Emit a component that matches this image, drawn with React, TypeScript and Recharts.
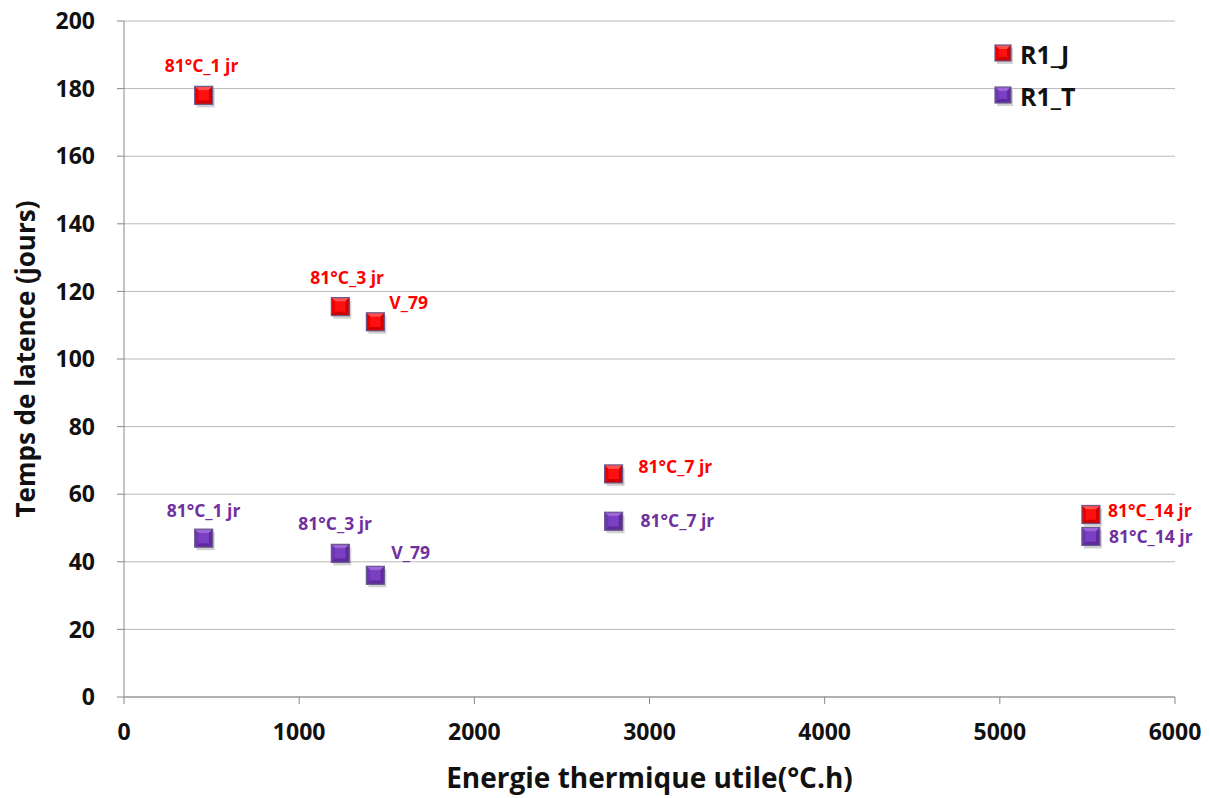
import React from "react";
import {
  ScatterChart,
  Scatter,
  XAxis,
  YAxis,
  CartesianGrid,
} from "recharts";

const energyValues = [455, 1235, 1435, 2795, 5520];
const latenceR1J = [178, 115.5, 111, 66, 54];
const latenceR1T = [47, 42.5, 36, 52, 47.5];
const pointLabels = ["81°C_1 jr", "81°C_3 jr", "V_79", "81°C_7 jr", "81°C_14 jr"];
const xTicks = [0, 1000, 2000, 3000, 4000, 5000, 6000];
const yTicks = [0, 20, 40, 60, 80, 100, 120, 140, 160, 180, 200];
const seriesNames = ["R1_J", "R1_T"];

// label offsets (style only)
const offsetsJ = [
  [-39, -30],
  [-30, -30],
  [14, -20],
  [25, -8],
  [17, -4],
];
const offsetsT = [
  [-37, -28],
  [-42, -30],
  [16, -23],
  [27, -1],
  [18, 0],
];

const dataJ = energyValues.map((x, i) => ({ x, y: latenceR1J[i], label: pointLabels[i], idx: i }));
const dataT = energyValues.map((x, i) => ({ x, y: latenceR1T[i], label: pointLabels[i], idx: i }));

const FONT = "'Open Sans', Lato, sans-serif";

type Pal = { base: string; light: string; dark: string; side: string; text: string };
const RED: Pal = { base: "#FF1010", light: "#FF5050", dark: "#D00000", side: "#E80000", text: "#FF0000" };
const PURPLE: Pal = { base: "#7B3FC4", light: "#9A66D8", dark: "#5E2A9E", side: "#6D36B2", text: "#7030A0" };

function Marker({ cx, cy, pal, s = 9 }: { cx: number; cy: number; pal: Pal; s?: number }) {
  const l = cx - s, r = cx + s, t = cy - s, b = cy + s;
  const i = 4;
  return (
    <g>
      <rect x={l + 2} y={t + 3} width={2 * s} height={2 * s} fill="#000" opacity={0.18} />
      <rect x={l} y={t} width={2 * s} height={2 * s} fill={pal.base} />
      <polygon points={`${l},${t} ${r},${t} ${r - i},${t + i} ${l + i},${t + i}`} fill={pal.light} />
      <polygon points={`${l},${t} ${l + i},${t + i} ${l + i},${b - i} ${l},${b}`} fill={pal.side} />
      <polygon points={`${l},${b} ${l + i},${b - i} ${r - i},${b - i} ${r},${b}`} fill={pal.dark} />
      <polygon points={`${r},${t} ${r},${b} ${r - i},${b - i} ${r - i},${t + i}`} fill={pal.dark} />
      <rect x={l + i} y={t + i} width={2 * s - 2 * i} height={2 * s - 2 * i} fill={pal.base} />
      <rect x={l} y={t} width={2 * s} height={2 * s} fill="none" stroke="#6B5B8A" strokeWidth={1.2} />
    </g>
  );
}

function makeShape(pal: Pal, offsets: number[][]) {
  return (props: any) => {
    const { cx, cy, payload } = props;
    const [dx, dy] = offsets[payload.idx];
    return (
      <g>
        <Marker cx={cx} cy={cy} pal={pal} />
        <text
          x={cx + dx}
          y={cy + dy}
          fill={pal.text}
          fontFamily={FONT}
          fontWeight={700}
          fontSize={17.5}
          dominantBaseline="central"
        >
          {payload.label}
        </text>
      </g>
    );
  };
}

function LegendBox() {
  const pals = [RED, PURPLE];
  return (
    <svg width={140} height={90} style={{ position: "absolute", left: 991, top: 33 }}>
      {seriesNames.map((name, k) => (
        <g key={name}>
          <Marker cx={12} cy={20 + k * 42} pal={pals[k]} s={8} />
          <text x={29} y={21 + k * 42} fontFamily={FONT} fontWeight={700} fontSize={25} fill="#111" dominantBaseline="central">
            {name}
          </text>
        </g>
      ))}
    </svg>
  );
}

export default function App() {
  return (
    <div style={{ width: 1208, height: 798, position: "relative", margin: "-8px 0 0 -8px" }}>
      <ScatterChart
        width={1208}
        height={798}
        margin={{ top: 21, right: 33, bottom: 10, left: 24 }}
      >
        <CartesianGrid horizontal vertical={false} stroke="#B8B8B8" strokeWidth={1} />
        <XAxis
          type="number"
          dataKey="x"
          domain={[0, 6000]}
          ticks={xTicks}
          height={91}
          stroke="#888"
          tickSize={7}
          tickMargin={20}
          tick={{ fill: "#111", fontFamily: FONT, fontWeight: 700, fontSize: 23 }}
          label={{
            value: "Energie thermique utile(°C.h)",
            position: "insideBottom",
            offset: 0,
            fill: "#111",
            fontFamily: FONT,
            fontWeight: 700,
            fontSize: 28,
          }}
        />
        <YAxis
          type="number"
          dataKey="y"
          domain={[0, 200]}
          ticks={yTicks}
          width={100}
          stroke="#888"
          tickSize={7}
          tickMargin={22}
          tick={{ fill: "#111", fontFamily: FONT, fontWeight: 700, fontSize: 23 }}
          label={{
            value: "Temps de latence (jours)",
            angle: -90,
            position: "insideLeft",
            offset: 2,
            style: { textAnchor: "middle" },
            fill: "#111",
            fontFamily: FONT,
            fontWeight: 700,
            fontSize: 26,
          }}
        />
        <Scatter name="R1_J" data={dataJ} isAnimationActive={false} shape={makeShape(RED, offsetsJ)} />
        <Scatter name="R1_T" data={dataT} isAnimationActive={false} shape={makeShape(PURPLE, offsetsT)} />
      </ScatterChart>
      <LegendBox />
    </div>
  );
}
